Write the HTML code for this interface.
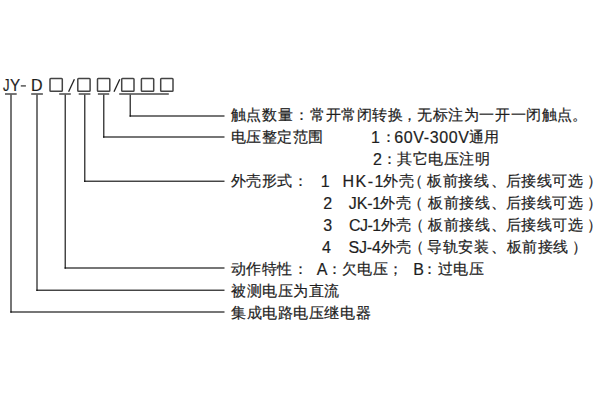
<!DOCTYPE html>
<html><head><meta charset="utf-8">
<style>
html,body{margin:0;padding:0;background:#fff;width:600px;height:400px;overflow:hidden}
body{position:relative;font-family:"Liberation Sans",sans-serif;color:#1e1e1e}
.t{position:absolute;white-space:pre;line-height:22px;-webkit-text-stroke:0.2px currentColor}
svg{position:absolute;left:0;top:0}
</style></head><body>
<svg width="600" height="400" viewBox="0 0 600 400">
<g fill="#000" fill-opacity="0.77">
<rect x="5.000" y="93.300" width="11.700" height="1.4"/>
<rect x="31.200" y="93.300" width="11.700" height="1.4"/>
<rect x="59.200" y="93.300" width="11.600" height="1.4"/>
<rect x="78.700" y="93.300" width="11.700" height="1.4"/>
<rect x="97.900" y="93.300" width="11.300" height="1.4"/>
<rect x="119.200" y="93.300" width="49.600" height="1.4"/>
<rect x="10.300" y="94.700" width="1.4" height="218.000"/>
<rect x="10.300" y="311.300" width="214.200" height="1.4"/>
<rect x="36.300" y="94.700" width="1.4" height="196.250"/>
<rect x="36.300" y="289.550" width="188.200" height="1.4"/>
<rect x="64.550" y="94.700" width="1.4" height="174.000"/>
<rect x="64.550" y="267.300" width="159.950" height="1.4"/>
<rect x="84.050" y="94.700" width="1.4" height="87.250"/>
<rect x="84.050" y="180.550" width="140.450" height="1.4"/>
<rect x="103.050" y="94.700" width="1.4" height="43.000"/>
<rect x="103.050" y="136.300" width="121.450" height="1.4"/>
<rect x="129.550" y="94.700" width="1.4" height="22.000"/>
<rect x="129.550" y="115.300" width="94.950" height="1.4"/>
</g>
<g stroke="#444" stroke-width="1.5" fill="none">
<rect x="50" y="78.5" width="12.3" height="12.8" rx="0.8"/>
<rect x="77.8" y="78.5" width="12.3" height="12.8" rx="0.8"/>
<rect x="97.5" y="78.5" width="12.3" height="12.8" rx="0.8"/>
<rect x="121.7" y="78.5" width="12.3" height="12.8" rx="0.8"/>
<rect x="141.4" y="78.5" width="12.3" height="12.8" rx="0.8"/>
<rect x="160.7" y="78.5" width="12.3" height="12.8" rx="0.8"/>
</g>
<g stroke="#222" stroke-width="1.3">
<line x1="20.8" y1="85.9" x2="25.9" y2="85.9" stroke="#555" stroke-width="1.5"/>
<line x1="68.6" y1="91.8" x2="74.4" y2="79.2"/>
<line x1="114" y1="91.8" x2="119.8" y2="79.2"/>
</g>
</svg>
<div class="t" style="left:3.2px;top:75px;font-size:16px;transform:scaleX(0.82);transform-origin:0 0">J</div>
<div class="t" style="left:9.6px;top:75px;font-size:16px;transform:scaleX(0.95);transform-origin:0 0">Y</div>
<div class="t" style="left:31px;top:75px;font-size:16px">D</div>
<div class="t" style="left:230.90px;top:104px;font-size:15px;letter-spacing:0.54px">触点数量</div>
<div class="t" style="left:294.00px;top:104px;font-size:15px;letter-spacing:0.54px">：</div>
<div class="t" style="left:310.00px;top:104px;font-size:15px;letter-spacing:0.54px">常开常闭转换</div>
<div class="t" style="left:402.30px;top:104px;font-size:15px;letter-spacing:0.54px">，</div>
<div class="t" style="left:417.30px;top:104px;font-size:15px;letter-spacing:0.54px">无标注为一开一闭触点</div>
<div class="t" style="left:572.30px;top:104px;font-size:15px;letter-spacing:0.54px">。</div>
<div class="t" style="left:230.70px;top:126px;font-size:15px;letter-spacing:0.54px">电压整定范围</div>
<div class="t" style="left:371.00px;top:127px;font-size:16px;letter-spacing:0.00px">1</div>
<div class="t" style="left:380.50px;top:126px;font-size:15px;letter-spacing:0.54px">：</div>
<div class="t" style="left:394.30px;top:127px;font-size:16px;letter-spacing:0.61px">60V-300V</div>
<div class="t" style="left:468.80px;top:126px;font-size:15px;letter-spacing:0.54px">通用</div>
<div class="t" style="left:373.00px;top:149px;font-size:16px;letter-spacing:0.00px">2</div>
<div class="t" style="left:382.00px;top:148px;font-size:15px;letter-spacing:0.54px">：</div>
<div class="t" style="left:397.00px;top:148px;font-size:15px;letter-spacing:0.54px">其它电压注明</div>
<div class="t" style="left:230.80px;top:170px;font-size:15px;letter-spacing:0.54px">外壳形式</div>
<div class="t" style="left:293.20px;top:170px;font-size:15px;letter-spacing:0.54px">：</div>
<div class="t" style="left:320.80px;top:171px;font-size:16px;letter-spacing:0.00px">1</div>
<div class="t" style="left:342.50px;top:171px;font-size:16px;letter-spacing:1.50px">HK-1</div>
<div class="t" style="left:383.10px;top:170px;font-size:15px;letter-spacing:0.54px">外壳</div>
<div class="t" style="left:408.00px;top:170px;font-size:15px;letter-spacing:0.54px">（</div>
<div class="t" style="left:427.40px;top:170px;font-size:15px;letter-spacing:0.54px">板前接线</div>
<div class="t" style="left:490.60px;top:170px;font-size:15px;letter-spacing:0.54px">、</div>
<div class="t" style="left:505.60px;top:170px;font-size:15px;letter-spacing:0.54px">后接线可选</div>
<div class="t" style="left:587.40px;top:170px;font-size:15px;letter-spacing:0.54px">）</div>
<div class="t" style="left:323.20px;top:193px;font-size:16px;letter-spacing:0.00px">2</div>
<div class="t" style="left:348.80px;top:193px;font-size:16px;letter-spacing:-0.17px">JK-1</div>
<div class="t" style="left:380.30px;top:192px;font-size:15px;letter-spacing:0.54px">外壳</div>
<div class="t" style="left:407.50px;top:192px;font-size:15px;letter-spacing:0.54px">（</div>
<div class="t" style="left:428.10px;top:192px;font-size:15px;letter-spacing:0.54px">板前接线</div>
<div class="t" style="left:490.60px;top:192px;font-size:15px;letter-spacing:0.54px">、</div>
<div class="t" style="left:505.60px;top:192px;font-size:15px;letter-spacing:0.54px">后接线可选</div>
<div class="t" style="left:587.40px;top:192px;font-size:15px;letter-spacing:0.54px">）</div>
<div class="t" style="left:323.20px;top:215px;font-size:16px;letter-spacing:0.00px">3</div>
<div class="t" style="left:349.00px;top:215px;font-size:16px;letter-spacing:-0.57px">CJ-1</div>
<div class="t" style="left:380.80px;top:214px;font-size:15px;letter-spacing:0.54px">外壳</div>
<div class="t" style="left:408.60px;top:214px;font-size:15px;letter-spacing:0.54px">（</div>
<div class="t" style="left:428.10px;top:214px;font-size:15px;letter-spacing:0.54px">板前接线</div>
<div class="t" style="left:490.60px;top:214px;font-size:15px;letter-spacing:0.54px">、</div>
<div class="t" style="left:505.60px;top:214px;font-size:15px;letter-spacing:0.54px">后接线可选</div>
<div class="t" style="left:587.40px;top:214px;font-size:15px;letter-spacing:0.54px">）</div>
<div class="t" style="left:322.00px;top:237px;font-size:16px;letter-spacing:0.00px">4</div>
<div class="t" style="left:348.50px;top:237px;font-size:16px;letter-spacing:-0.17px">SJ-4</div>
<div class="t" style="left:380.80px;top:236px;font-size:15px;letter-spacing:0.54px">外壳</div>
<div class="t" style="left:408.60px;top:236px;font-size:15px;letter-spacing:0.54px">（</div>
<div class="t" style="left:427.10px;top:236px;font-size:15px;letter-spacing:0.54px">导轨安装</div>
<div class="t" style="left:490.60px;top:236px;font-size:15px;letter-spacing:0.54px">、</div>
<div class="t" style="left:506.60px;top:236px;font-size:15px;letter-spacing:0.54px">板前接线</div>
<div class="t" style="left:572.00px;top:236px;font-size:15px;letter-spacing:0.54px">）</div>
<div class="t" style="left:230.80px;top:258px;font-size:15px;letter-spacing:0.54px">动作特性</div>
<div class="t" style="left:293.20px;top:258px;font-size:15px;letter-spacing:0.54px">：</div>
<div class="t" style="left:316.70px;top:259px;font-size:16px;letter-spacing:0.00px">A</div>
<div class="t" style="left:327.30px;top:258px;font-size:15px;letter-spacing:0.54px">：</div>
<div class="t" style="left:341.50px;top:258px;font-size:15px;letter-spacing:0.54px">欠电压</div>
<div class="t" style="left:388.20px;top:258px;font-size:15px;letter-spacing:0.54px">；</div>
<div class="t" style="left:413.20px;top:259px;font-size:16px;letter-spacing:0.00px">B</div>
<div class="t" style="left:422.30px;top:258px;font-size:15px;letter-spacing:0.54px">：</div>
<div class="t" style="left:437.50px;top:258px;font-size:15px;letter-spacing:0.54px">过电压</div>
<div class="t" style="left:231.25px;top:280px;font-size:15px;letter-spacing:0.54px">被测电压为直流</div>
<div class="t" style="left:231.25px;top:302px;font-size:15px;letter-spacing:0.54px">集成电路电压继电器</div>
</body></html>
